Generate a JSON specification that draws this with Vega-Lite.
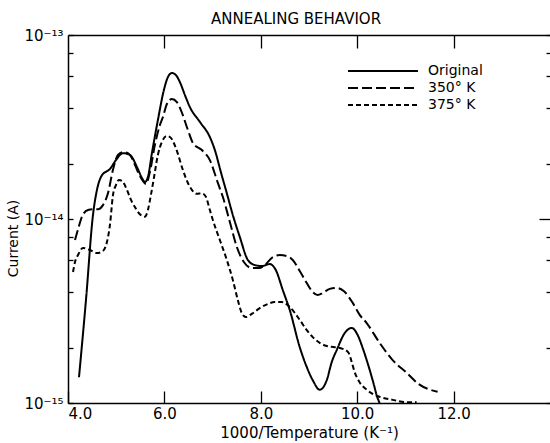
{
  "$schema": "https://vega.github.io/schema/vega-lite/v6.json",
  "autosize": "none",
  "width": 482,
  "height": 368,
  "padding": {"left": 68, "top": 35, "right": 0, "bottom": 40},
  "background": "white",
  "title": {"text": "ANNEALING BEHAVIOR", "anchor": "middle", "dx": -13, "fontSize": 15, "fontWeight": "normal", "font": "DejaVu Sans", "color": "black", "offset": 1},
  "config": {
    "view": {"stroke": null},
    "axis": {"labelFont": "DejaVu Sans", "titleFont": "DejaVu Sans", "labelColor": "black", "titleColor": "black", "domainColor": "black", "tickColor": "black", "grid": false, "domainWidth": 1.5, "tickWidth": 1.3, "titleFontWeight": "normal"},
    "legend": {"labelFont": "DejaVu Sans", "labelColor": "black"}
  },
  "data": {"values": [
    {"series": "Original", "x": 4.228, "current": 1.38e-15},
    {"series": "Original", "x": 4.373, "current": 3.63e-15},
    {"series": "Original", "x": 4.518, "current": 1.05e-14},
    {"series": "Original", "x": 4.601, "current": 1.44e-14},
    {"series": "Original", "x": 4.705, "current": 1.73e-14},
    {"series": "Original", "x": 4.870, "current": 1.87e-14},
    {"series": "Original", "x": 4.995, "current": 2.09e-14},
    {"series": "Original", "x": 5.140, "current": 2.28e-14},
    {"series": "Original", "x": 5.285, "current": 2.23e-14},
    {"series": "Original", "x": 5.430, "current": 1.92e-14},
    {"series": "Original", "x": 5.534, "current": 1.67e-14},
    {"series": "Original", "x": 5.596, "current": 1.59e-14},
    {"series": "Original", "x": 5.658, "current": 1.69e-14},
    {"series": "Original", "x": 5.741, "current": 2.28e-14},
    {"series": "Original", "x": 5.865, "current": 3.45e-14},
    {"series": "Original", "x": 5.990, "current": 5.03e-14},
    {"series": "Original", "x": 6.073, "current": 5.91e-14},
    {"series": "Original", "x": 6.155, "current": 6.22e-14},
    {"series": "Original", "x": 6.238, "current": 6.06e-14},
    {"series": "Original", "x": 6.321, "current": 5.55e-14},
    {"series": "Original", "x": 6.425, "current": 4.72e-14},
    {"series": "Original", "x": 6.528, "current": 4.06e-14},
    {"series": "Original", "x": 6.736, "current": 3.37e-14},
    {"series": "Original", "x": 6.943, "current": 2.79e-14},
    {"series": "Original", "x": 7.047, "current": 2.37e-14},
    {"series": "Original", "x": 7.171, "current": 1.80e-14},
    {"series": "Original", "x": 7.295, "current": 1.38e-14},
    {"series": "Original", "x": 7.420, "current": 1.05e-14},
    {"series": "Original", "x": 7.565, "current": 7.98e-15},
    {"series": "Original", "x": 7.731, "current": 5.99e-15},
    {"series": "Original", "x": 7.876, "current": 5.62e-15},
    {"series": "Original", "x": 8.021, "current": 5.55e-15},
    {"series": "Original", "x": 8.187, "current": 5.69e-15},
    {"series": "Original", "x": 8.311, "current": 5.28e-15},
    {"series": "Original", "x": 8.456, "current": 4.11e-15},
    {"series": "Original", "x": 8.601, "current": 3.20e-15},
    {"series": "Original", "x": 8.808, "current": 2.01e-15},
    {"series": "Original", "x": 8.953, "current": 1.57e-15},
    {"series": "Original", "x": 9.078, "current": 1.33e-15},
    {"series": "Original", "x": 9.223, "current": 1.18e-15},
    {"series": "Original", "x": 9.368, "current": 1.33e-15},
    {"series": "Original", "x": 9.472, "current": 1.67e-15},
    {"series": "Original", "x": 9.575, "current": 1.94e-15},
    {"series": "Original", "x": 9.741, "current": 2.40e-15},
    {"series": "Original", "x": 9.886, "current": 2.56e-15},
    {"series": "Original", "x": 10.010, "current": 2.34e-15},
    {"series": "Original", "x": 10.114, "current": 1.99e-15},
    {"series": "Original", "x": 10.197, "current": 1.71e-15},
    {"series": "Original", "x": 10.321, "current": 1.33e-15},
    {"series": "Original", "x": 10.425, "current": 1.06e-15},
    {"series": "Original", "x": 10.466, "current": 1.0e-15},
    {"series": "350° K", "x": 4.145, "current": 7.69e-15},
    {"series": "350° K", "x": 4.228, "current": 9.16e-15},
    {"series": "350° K", "x": 4.290, "current": 1.03e-14},
    {"series": "350° K", "x": 4.415, "current": 1.12e-14},
    {"series": "350° K", "x": 4.518, "current": 1.13e-14},
    {"series": "350° K", "x": 4.622, "current": 1.13e-14},
    {"series": "350° K", "x": 4.725, "current": 1.19e-14},
    {"series": "350° K", "x": 4.829, "current": 1.38e-14},
    {"series": "350° K", "x": 4.933, "current": 1.85e-14},
    {"series": "350° K", "x": 5.036, "current": 2.23e-14},
    {"series": "350° K", "x": 5.140, "current": 2.31e-14},
    {"series": "350° K", "x": 5.244, "current": 2.28e-14},
    {"series": "350° K", "x": 5.347, "current": 2.09e-14},
    {"series": "350° K", "x": 5.451, "current": 1.80e-14},
    {"series": "350° K", "x": 5.554, "current": 1.61e-14},
    {"series": "350° K", "x": 5.617, "current": 1.55e-14},
    {"series": "350° K", "x": 5.699, "current": 1.80e-14},
    {"series": "350° K", "x": 5.803, "current": 2.53e-14},
    {"series": "350° K", "x": 5.907, "current": 3.24e-14},
    {"series": "350° K", "x": 5.969, "current": 3.58e-14},
    {"series": "350° K", "x": 6.052, "current": 4.22e-14},
    {"series": "350° K", "x": 6.155, "current": 4.49e-14},
    {"series": "350° K", "x": 6.259, "current": 4.32e-14},
    {"series": "350° K", "x": 6.342, "current": 3.91e-14},
    {"series": "350° K", "x": 6.487, "current": 3.05e-14},
    {"series": "350° K", "x": 6.591, "current": 2.59e-14},
    {"series": "350° K", "x": 6.777, "current": 2.37e-14},
    {"series": "350° K", "x": 6.943, "current": 2.09e-14},
    {"series": "350° K", "x": 7.109, "current": 1.57e-14},
    {"series": "350° K", "x": 7.212, "current": 1.32e-14},
    {"series": "350° K", "x": 7.358, "current": 9.63e-15},
    {"series": "350° K", "x": 7.503, "current": 7.04e-15},
    {"series": "350° K", "x": 7.648, "current": 5.84e-15},
    {"series": "350° K", "x": 7.813, "current": 5.42e-15},
    {"series": "350° K", "x": 7.979, "current": 5.42e-15},
    {"series": "350° K", "x": 8.104, "current": 5.69e-15},
    {"series": "350° K", "x": 8.249, "current": 6.21e-15},
    {"series": "350° K", "x": 8.394, "current": 6.37e-15},
    {"series": "350° K", "x": 8.539, "current": 6.29e-15},
    {"series": "350° K", "x": 8.663, "current": 5.99e-15},
    {"series": "350° K", "x": 8.808, "current": 5.22e-15},
    {"series": "350° K", "x": 8.953, "current": 4.49e-15},
    {"series": "350° K", "x": 9.078, "current": 4.01e-15},
    {"series": "350° K", "x": 9.181, "current": 3.86e-15},
    {"series": "350° K", "x": 9.285, "current": 3.96e-15},
    {"series": "350° K", "x": 9.430, "current": 4.17e-15},
    {"series": "350° K", "x": 9.575, "current": 4.22e-15},
    {"series": "350° K", "x": 9.720, "current": 4.06e-15},
    {"series": "350° K", "x": 9.907, "current": 3.50e-15},
    {"series": "350° K", "x": 10.052, "current": 3.01e-15},
    {"series": "350° K", "x": 10.197, "current": 2.72e-15},
    {"series": "350° K", "x": 10.466, "current": 2.12e-15},
    {"series": "350° K", "x": 10.736, "current": 1.71e-15},
    {"series": "350° K", "x": 11.026, "current": 1.46e-15},
    {"series": "350° K", "x": 11.254, "current": 1.28e-15},
    {"series": "350° K", "x": 11.668, "current": 1.15e-15},
    {"series": "375° K", "x": 4.104, "current": 5.15e-15},
    {"series": "375° K", "x": 4.145, "current": 5.84e-15},
    {"series": "375° K", "x": 4.207, "current": 6.37e-15},
    {"series": "375° K", "x": 4.311, "current": 6.96e-15},
    {"series": "375° K", "x": 4.456, "current": 6.78e-15},
    {"series": "375° K", "x": 4.601, "current": 6.53e-15},
    {"series": "375° K", "x": 4.725, "current": 6.70e-15},
    {"series": "375° K", "x": 4.808, "current": 7.50e-15},
    {"series": "375° K", "x": 4.870, "current": 9.28e-15},
    {"series": "375° K", "x": 4.933, "current": 1.35e-14},
    {"series": "375° K", "x": 4.995, "current": 1.53e-14},
    {"series": "375° K", "x": 5.057, "current": 1.63e-14},
    {"series": "375° K", "x": 5.119, "current": 1.61e-14},
    {"series": "375° K", "x": 5.223, "current": 1.44e-14},
    {"series": "375° K", "x": 5.306, "current": 1.27e-14},
    {"series": "375° K", "x": 5.389, "current": 1.16e-14},
    {"series": "375° K", "x": 5.492, "current": 1.06e-14},
    {"series": "375° K", "x": 5.596, "current": 1.03e-14},
    {"series": "375° K", "x": 5.658, "current": 1.12e-14},
    {"series": "375° K", "x": 5.720, "current": 1.35e-14},
    {"series": "375° K", "x": 5.782, "current": 1.67e-14},
    {"series": "375° K", "x": 5.865, "current": 2.23e-14},
    {"series": "375° K", "x": 5.948, "current": 2.62e-14},
    {"series": "375° K", "x": 6.052, "current": 2.83e-14},
    {"series": "375° K", "x": 6.135, "current": 2.76e-14},
    {"series": "375° K", "x": 6.238, "current": 2.43e-14},
    {"series": "375° K", "x": 6.383, "current": 1.85e-14},
    {"series": "375° K", "x": 6.487, "current": 1.57e-14},
    {"series": "375° K", "x": 6.570, "current": 1.44e-14},
    {"series": "375° K", "x": 6.674, "current": 1.37e-14},
    {"series": "375° K", "x": 6.777, "current": 1.38e-14},
    {"series": "375° K", "x": 6.860, "current": 1.32e-14},
    {"series": "375° K", "x": 6.943, "current": 1.12e-14},
    {"series": "375° K", "x": 7.005, "current": 9.88e-15},
    {"series": "375° K", "x": 7.150, "current": 7.69e-15},
    {"series": "375° K", "x": 7.295, "current": 5.99e-15},
    {"series": "375° K", "x": 7.420, "current": 4.66e-15},
    {"series": "375° K", "x": 7.523, "current": 3.63e-15},
    {"series": "375° K", "x": 7.606, "current": 3.08e-15},
    {"series": "375° K", "x": 7.689, "current": 2.93e-15},
    {"series": "375° K", "x": 7.813, "current": 3.05e-15},
    {"series": "375° K", "x": 7.979, "current": 3.28e-15},
    {"series": "375° K", "x": 8.145, "current": 3.45e-15},
    {"series": "375° K", "x": 8.290, "current": 3.54e-15},
    {"series": "375° K", "x": 8.435, "current": 3.54e-15},
    {"series": "375° K", "x": 8.601, "current": 3.32e-15},
    {"series": "375° K", "x": 8.808, "current": 2.83e-15},
    {"series": "375° K", "x": 8.953, "current": 2.49e-15},
    {"series": "375° K", "x": 9.078, "current": 2.28e-15},
    {"series": "375° K", "x": 9.223, "current": 2.12e-15},
    {"series": "375° K", "x": 9.368, "current": 2.04e-15},
    {"series": "375° K", "x": 9.534, "current": 2.01e-15},
    {"series": "375° K", "x": 9.699, "current": 1.97e-15},
    {"series": "375° K", "x": 9.824, "current": 1.87e-15},
    {"series": "375° K", "x": 9.886, "current": 1.67e-15},
    {"series": "375° K", "x": 9.948, "current": 1.47e-15},
    {"series": "375° K", "x": 10.031, "current": 1.32e-15},
    {"series": "375° K", "x": 10.197, "current": 1.18e-15},
    {"series": "375° K", "x": 10.466, "current": 1.08e-15},
    {"series": "375° K", "x": 10.736, "current": 1.04e-15},
    {"series": "375° K", "x": 11.026, "current": 1.01e-15},
    {"series": "375° K", "x": 11.233, "current": 1.01e-15}
  ]},
  "resolve": {"axis": {"x": "independent", "y": "independent"}},
  "layer": [
    {
      "mark": {"type": "line", "interpolate": "monotone", "color": "black", "strokeWidth": 2, "clip": true},
      "encoding": {
        "x": {"field": "x", "type": "quantitative", "scale": {"domain": [4, 14], "nice": false, "zero": false},
          "axis": {"orient": "bottom", "values": [4, 6, 8, 10, 12], "format": ".1f", "tickSize": -12, "labelPadding": 15, "labelFontSize": 15, "title": "1000/Temperature (K⁻¹)", "titleFontSize": 15, "titlePadding": 4}},
        "y": {"field": "current", "type": "quantitative", "scale": {"type": "log", "domain": [1e-15, 1e-13], "nice": false},
          "axis": {"orient": "left", "values": [1e-15, 2e-15, 4e-15, 6e-15, 8e-15, 1e-14, 2e-14, 4e-14, 6e-14, 8e-14, 1e-13], "tickSize": -5,
            "labelExpr": "abs(datum.value/1e-13 - 1) < 1e-6 ? '10⁻¹³' : abs(datum.value/1e-14 - 1) < 1e-6 ? '10⁻¹⁴' : abs(datum.value/1e-15 - 1) < 1e-6 ? '10⁻¹⁵' : ''",
            "labelPadding": 10, "labelFontSize": 15, "title": "Current (A)", "titleFontSize": 14, "titleX": -48, "titleY": 203}},
        "strokeDash": {"field": "series", "type": "nominal",
          "scale": {"domain": ["Original", "350° K", "375° K"], "range": [[1, 0], [10, 4], [5, 3]]},
          "legend": {"title": null, "orient": "none", "legendX": 307, "legendY": 28, "symbolType": "M-5,0H5", "symbolSize": 196, "symbolStrokeWidth": 2, "symbolStrokeColor": "black", "symbolFillColor": "transparent", "labelFontSize": 14, "labelOffset": 37, "rowPadding": 2, "padding": 0}}
      }
    },
    {
      "mark": {"type": "line", "interpolate": "monotone", "strokeOpacity": 0},
      "encoding": {
        "x": {"field": "x", "type": "quantitative", "scale": {"domain": [4, 14], "nice": false, "zero": false},
          "axis": {"orient": "top", "values": [6, 8, 10, 12], "tickSize": -13, "labels": false, "title": null}},
        "y": {"field": "current", "type": "quantitative", "scale": {"type": "log", "domain": [1e-15, 1e-13], "nice": false},
          "axis": {"orient": "right", "values": [1e-15, 2e-15, 4e-15, 6e-15, 8e-15, 1e-14, 2e-14, 4e-14, 6e-14, 8e-14, 1e-13], "domain": false, "labels": false, "title": null,
            "tickSize": {"condition": {"test": "abs(datum.value/1e-14 - 1) < 1e-6", "value": -11}, "value": -4}}},
        "detail": {"field": "series", "type": "nominal"}
      }
    }
  ]
}
